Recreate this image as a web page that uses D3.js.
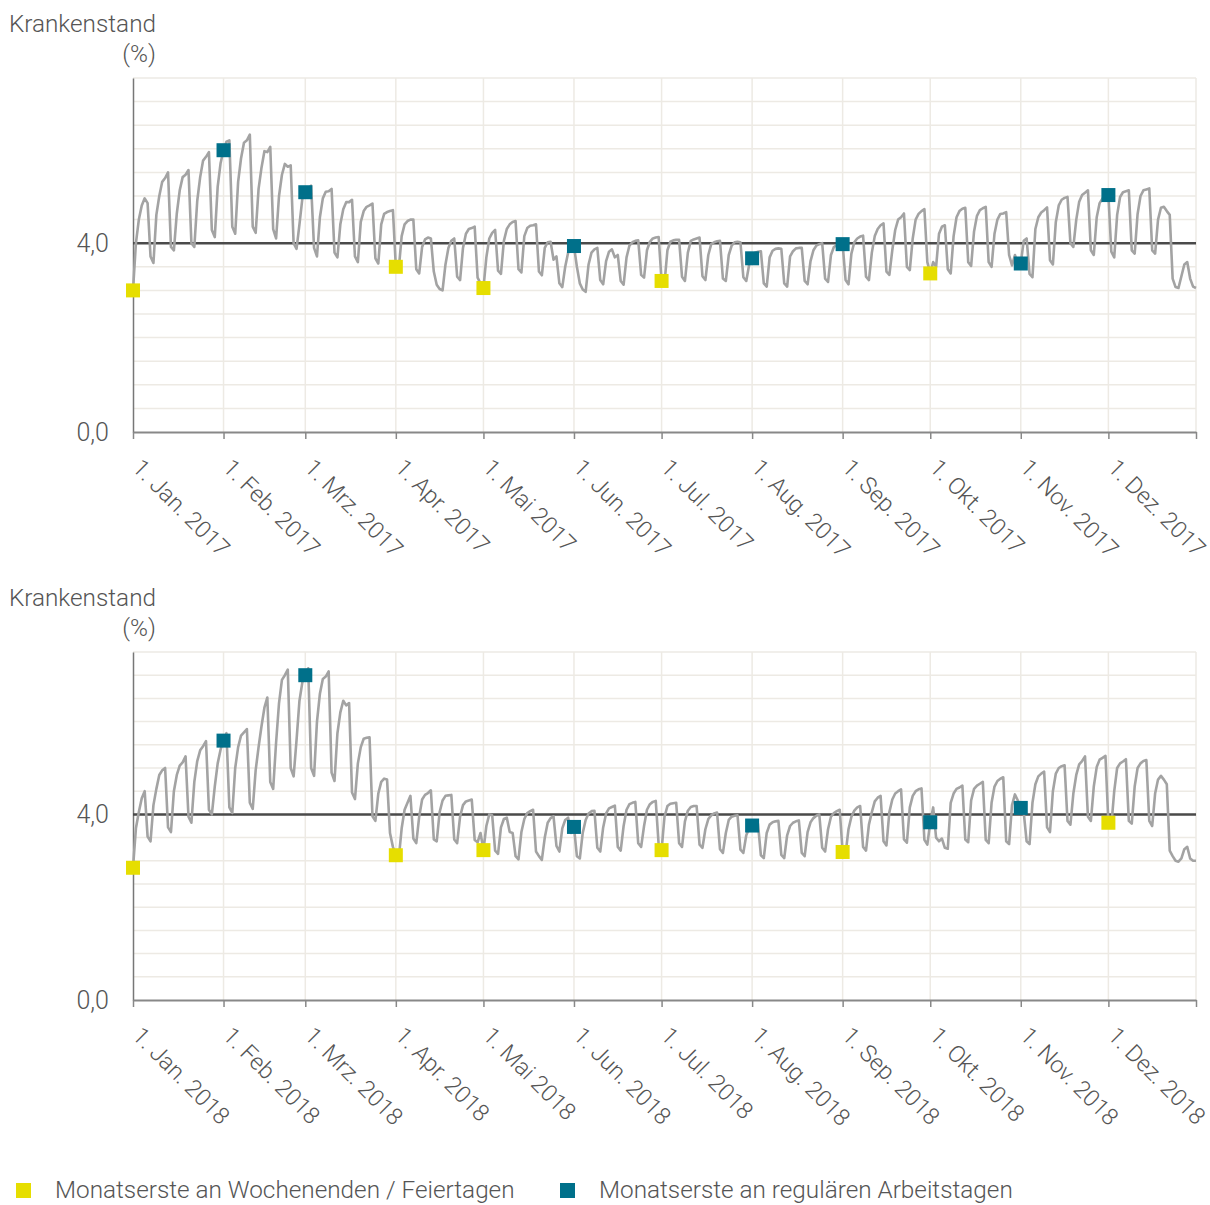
<!DOCTYPE html>
<html>
<head>
<meta charset="utf-8">
<script src="https://cdn.jsdelivr.net/npm/d3@7"></script>
<style>
  body { margin: 0; background: #fff; }
  svg text { font-family: Roboto, 'Open Sans', sans-serif; font-weight: 300; fill: #555; }
</style>
</head>
<body>
<svg id="chart" width="1210" height="1205"></svg>
<script>
// ── Data ───────────────────────────────────────────────────────
const monthLabels = ['Jan.', 'Feb.', 'Mrz.', 'Apr.', 'Mai', 'Jun.', 'Jul.', 'Aug.', 'Sep.', 'Okt.', 'Nov.', 'Dez.'];
const yTicks = [0, 4];
const refValue = 4.0;

// daily sick-leave rate (%), 1 Jan 2017 (Sun) .. 31 Dec 2017, one row per week Mon..Sun
const krankenstand2017 = [
  3.00,
  4.00, 4.50, 4.80, 4.95, 4.85, 3.72, 3.58,
  4.60, 5.00, 5.30, 5.38, 5.50, 3.92, 3.85,
  4.63, 5.12, 5.40, 5.45, 5.55, 4.00, 3.92,
  4.90, 5.40, 5.75, 5.83, 5.93, 4.28, 4.13,
  5.20, 5.70, 5.97, 6.15, 6.18, 4.35, 4.20,
  5.30, 5.80, 6.13, 6.18, 6.30, 4.35, 4.22,
  5.15, 5.60, 5.95, 5.93, 6.04, 4.30, 4.10,
  5.00, 5.45, 5.68, 5.62, 5.65, 4.00, 3.88,
  4.40, 4.95, 5.08, 5.15, 5.22, 3.90, 3.72,
  4.55, 4.95, 5.09, 5.10, 5.15, 3.80, 3.70,
  4.40, 4.72, 4.87, 4.87, 4.92, 3.72, 3.60,
  4.45, 4.68, 4.77, 4.80, 4.84, 3.68, 3.57,
  4.40, 4.62, 4.66, 4.68, 4.70, 3.50, 3.45,
  4.15, 4.40, 4.47, 4.50, 4.50, 3.45, 3.36,
  3.92, 4.08, 4.12, 4.10, 3.40, 3.12, 3.03,
  3.00, 3.55, 3.90, 4.05, 4.10, 3.29, 3.22,
  3.90, 4.20, 4.30, 4.32, 4.35, 3.27, 3.15,
  3.05, 3.70, 4.10, 4.22, 4.28, 3.42, 3.35,
  4.05, 4.30, 4.40, 4.45, 4.47, 3.45, 3.38,
  4.15, 4.32, 4.37, 4.38, 4.40, 3.40, 3.32,
  3.90, 4.02, 4.03, 3.65, 3.72, 3.15, 3.07,
  3.50, 3.80, 3.92, 3.94, 3.50, 3.15, 3.02,
  2.97, 3.55, 3.80, 3.87, 3.90, 3.22, 3.13,
  3.62, 3.82, 3.87, 3.70, 3.75, 3.20, 3.12,
  3.70, 3.95, 4.02, 4.05, 4.06, 3.33, 3.27,
  3.85, 4.03, 4.10, 4.12, 4.13, 3.20, 3.15,
  3.85, 4.03, 4.06, 4.07, 4.07, 3.29, 3.20,
  3.80, 4.05, 4.08, 4.10, 4.12, 3.30, 3.22,
  3.75, 3.98, 4.02, 4.04, 4.05, 3.25, 3.20,
  3.75, 3.95, 4.02, 4.03, 4.02, 3.28, 3.20,
  3.55, 3.68, 3.80, 3.82, 3.83, 3.15, 3.08,
  3.70, 3.84, 3.88, 3.89, 3.88, 3.15, 3.08,
  3.72, 3.83, 3.89, 3.90, 3.90, 3.20, 3.13,
  3.62, 3.85, 3.95, 3.98, 4.00, 3.25, 3.18,
  3.75, 3.92, 3.96, 3.98, 3.98, 3.22, 3.13,
  3.78, 4.02, 4.10, 4.14, 4.16, 3.29, 3.22,
  3.80, 4.15, 4.30, 4.38, 4.42, 3.40, 3.33,
  3.85, 4.28, 4.50, 4.55, 4.63, 3.50, 3.43,
  4.10, 4.50, 4.62, 4.68, 4.72, 3.60, 3.36,
  3.60, 3.50, 4.20, 4.35, 4.38, 3.45, 3.36,
  4.15, 4.55, 4.68, 4.73, 4.75, 3.60, 3.52,
  4.25, 4.58, 4.70, 4.74, 4.77, 3.60, 3.50,
  4.20, 4.50, 4.62, 4.63, 4.66, 3.75, 3.53,
  3.75, 3.55, 3.57, 4.05, 4.10, 3.35, 3.28,
  4.30, 4.55, 4.65, 4.70, 4.76, 3.64, 3.55,
  4.45, 4.80, 4.92, 4.96, 4.98, 4.00, 3.92,
  4.50, 4.88, 5.02, 5.07, 5.12, 3.85, 3.75,
  4.55, 4.85, 4.95, 5.00, 5.02, 3.82, 3.70,
  4.60, 4.98, 5.08, 5.10, 5.12, 3.85, 3.78,
  4.62, 5.00, 5.12, 5.14, 5.16, 3.85, 3.78,
  4.50, 4.75, 4.77, 4.68, 4.60, 3.25, 3.07,
  3.05, 3.30, 3.55, 3.60, 3.25, 3.08, 3.05
];

// 1 Jan 2018 (Mon) .. 31 Dec 2018, one row per week Mon..Sun
const krankenstand2018 = [
  2.85, 3.70, 4.05, 4.35, 4.50, 3.52, 3.42,
  4.20, 4.55, 4.85, 4.95, 5.00, 3.72, 3.62,
  4.50, 4.85, 5.05, 5.12, 5.25, 3.95, 3.82,
  4.70, 5.15, 5.38, 5.47, 5.58, 4.10, 4.00,
  4.60, 5.10, 5.40, 5.59, 5.75, 4.15, 4.03,
  5.00, 5.45, 5.70, 5.77, 5.84, 4.25, 4.12,
  4.95, 5.45, 5.90, 6.30, 6.52, 4.70, 4.55,
  5.55, 6.40, 6.90, 7.00, 7.12, 5.00, 4.82,
  5.60, 6.45, 6.85, 7.00, 7.15, 5.00, 4.83,
  6.00, 6.60, 6.92, 6.97, 7.08, 4.90, 4.72,
  5.75, 6.20, 6.45, 6.35, 6.40, 4.47, 4.33,
  5.10, 5.45, 5.63, 5.65, 5.66, 3.96, 3.86,
  4.45, 4.70, 4.77, 4.75, 3.60, 3.30, 3.12,
  3.05, 3.70, 4.10, 4.25, 4.40, 3.48, 3.38,
  3.95, 4.32, 4.42, 4.46, 4.52, 3.46, 3.42,
  4.05, 4.30, 4.40, 4.41, 4.42, 3.46, 3.38,
  3.95, 4.20, 4.28, 4.30, 4.32, 3.45, 3.40,
  3.60, 3.23, 3.75, 4.00, 3.98, 3.22, 3.15,
  3.72, 3.90, 3.93, 3.62, 3.60, 3.10, 3.03,
  3.62, 3.90, 4.03, 4.07, 4.10, 3.20, 3.10,
  3.02, 3.50, 3.82, 3.92, 3.96, 3.32, 3.20,
  3.70, 3.88, 3.93, 3.60, 3.73, 3.10, 3.05,
  3.60, 3.88, 4.02, 4.07, 4.08, 3.28, 3.20,
  3.72, 4.02, 4.13, 4.16, 4.19, 3.30, 3.22,
  3.75, 4.10, 4.22, 4.25, 4.27, 3.38, 3.30,
  3.75, 4.10, 4.22, 4.27, 4.29, 3.35, 3.23,
  3.95, 4.18, 4.23, 4.24, 4.25, 3.38, 3.30,
  3.85, 4.08, 4.16, 4.18, 4.18, 3.35, 3.28,
  3.68, 3.90, 3.98, 4.02, 4.04, 3.25, 3.17,
  3.60, 3.88, 3.95, 3.97, 3.98, 3.24, 3.17,
  3.55, 3.70, 3.76, 3.80, 3.80, 3.12, 3.06,
  3.60, 3.78, 3.83, 3.85, 3.86, 3.13, 3.06,
  3.55, 3.75, 3.82, 3.85, 3.87, 3.17, 3.10,
  3.62, 3.83, 3.92, 3.97, 4.00, 3.28, 3.20,
  3.68, 3.95, 4.03, 4.07, 4.10, 3.19, 3.15,
  3.68, 3.95, 4.08, 4.15, 4.18, 3.30, 3.22,
  3.78, 4.05, 4.28, 4.36, 4.40, 3.42, 3.33,
  4.05, 4.32, 4.45, 4.50, 4.54, 3.46, 3.39,
  4.15, 4.40, 4.50, 4.54, 4.56, 3.45, 3.35,
  3.83, 4.15, 3.50, 3.42, 3.48, 3.28, 3.26,
  4.25, 4.45, 4.55, 4.58, 4.62, 3.46, 3.40,
  4.30, 4.55, 4.62, 4.66, 4.70, 3.45, 3.38,
  4.25, 4.60, 4.72, 4.77, 4.80, 3.42, 3.36,
  4.20, 4.43, 4.30, 4.14, 4.05, 3.42, 3.36,
  4.25, 4.65, 4.82, 4.88, 4.92, 3.72, 3.62,
  4.50, 4.88, 5.00, 5.04, 5.06, 3.86, 3.78,
  4.45, 4.85, 5.08, 5.15, 5.25, 3.95, 3.86,
  4.60, 5.02, 5.18, 5.22, 5.26, 3.82, 3.75,
  4.50, 5.00, 5.10, 5.14, 5.19, 3.86, 3.80,
  4.60, 5.00, 5.10, 5.15, 5.17, 3.86, 3.75,
  4.45, 4.75, 4.83, 4.75, 4.65, 3.22, 3.10,
  3.00, 2.98, 3.05, 3.25, 3.30, 3.05, 3.00,
  3.00
];

// first of month: 'w' = weekend / holiday, 'r' = regular working day
const monatserste2017 = ['w', 'r', 'r', 'w', 'w', 'r', 'w', 'r', 'r', 'w', 'r', 'r'];
const monatserste2018 = ['w', 'r', 'r', 'w', 'w', 'r', 'w', 'r', 'w', 'r', 'r', 'w'];

const legendLabels = ['Monatserste an Wochenenden / Feiertagen', 'Monatserste an regulären Arbeitstagen'];

// ── Styles ─────────────────────────────────────────────────────
const colors = { w: '#e6de00', r: '#00708a' };
const gridColor = '#edeae4';
const fmt = d => d.toFixed(1).replace('.', ',');

const svg = d3.select('#chart');

function drawPanel(year, values, firstTypes, top, bottom) {
  const left = 133, right = 1196;
  const start = new Date(Date.UTC(year, 0, 1));
  const end = new Date(Date.UTC(year, 11, 31));

  const x = d3.scaleUtc().domain([start, end]).range([left, right]);
  const y = d3.scaleLinear().domain([0, 7.5]).range([bottom, top]);

  const data = values.map((v, i) => ({ date: d3.utcDay.offset(start, i), value: v }));
  const monthStarts = d3.utcMonth.range(start, d3.utcDay.offset(end, 1));

  const g = svg.append('g');

  // Grid
  g.append('g').selectAll('line')
    .data(d3.range(0.5, 7.51, 0.5))
    .enter().append('line')
    .attr('x1', left).attr('x2', right)
    .attr('y1', d => y(d)).attr('y2', d => y(d))
    .attr('stroke', gridColor).attr('stroke-width', 1.5);
  g.append('g').selectAll('line')
    .data([...monthStarts.slice(1), end])
    .enter().append('line')
    .attr('x1', d => x(d)).attr('x2', d => x(d))
    .attr('y1', top).attr('y2', bottom)
    .attr('stroke', gridColor).attr('stroke-width', 1.5);

  // Axes
  const yAxisG = g.append('g').attr('transform', `translate(${left},0)`)
    .call(d3.axisLeft(y).tickValues(yTicks).tickSize(0).tickPadding(24).tickFormat(fmt));
  yAxisG.select('path').attr('stroke', '#777').attr('stroke-width', 1.5);
  yAxisG.selectAll('text')
    .attr('font-size', '25px')
    .attr('font-family', null)
    .attr('fill', '#555');

  const xAxisG = g.append('g').attr('transform', `translate(0,${bottom})`)
    .call(d3.axisBottom(x).tickValues([...monthStarts, end]).tickSize(7).tickSizeOuter(0).tickFormat(''));
  xAxisG.select('path').attr('stroke', '#888').attr('stroke-width', 2);
  xAxisG.selectAll('line').attr('stroke', '#888').attr('stroke-width', 1.5);

  g.selectAll('.month-label')
    .data(monthStarts)
    .enter().append('text')
    .attr('class', 'month-label')
    .attr('transform', d => `translate(${x(d) - 2},${bottom + 37}) rotate(45)`)
    .attr('font-size', '23.4px')
    .text(d => `1. ${monthLabels[d.getUTCMonth()]} ${year}`);

  // Axis title
  g.append('text').attr('x', 156).attr('y', top - 46).attr('text-anchor', 'end')
    .attr('font-size', '24.3px').text('Krankenstand');
  g.append('text').attr('x', 156).attr('y', top - 16).attr('text-anchor', 'end')
    .attr('font-size', '24.3px').text('(%)');

  // Reference line at 4,0
  g.append('line')
    .attr('x1', left).attr('x2', right)
    .attr('y1', y(refValue)).attr('y2', y(refValue))
    .attr('stroke', '#4a4a4a').attr('stroke-width', 2.5);

  // Daily line
  g.append('path')
    .datum(data)
    .attr('fill', 'none')
    .attr('stroke', '#a3a3a3')
    .attr('stroke-width', 2.6)
    .attr('stroke-linejoin', 'round')
    .attr('d', d3.line().x(d => x(d.date)).y(d => y(d.value)));

  // First-of-month markers
  const firsts = monthStarts.map((m, i) => ({
    date: m,
    value: values[d3.utcDay.count(start, m)],
    type: firstTypes[i],
  }));
  g.selectAll('.first-marker')
    .data(firsts)
    .enter().append('rect')
    .attr('class', 'first-marker')
    .attr('x', d => x(d.date) - 7)
    .attr('y', d => y(d.value) - 7)
    .attr('width', 14).attr('height', 14)
    .attr('fill', d => colors[d.type]);
}

drawPanel(2017, krankenstand2017, monatserste2017, 78, 432);
drawPanel(2018, krankenstand2018, monatserste2018, 652, 1000);

// ── Legend ─────────────────────────────────────────────────────
const legend = svg.append('g').attr('transform', 'translate(16,1183)');
[['w', 0], ['r', 544]].forEach(([k, dx], i) => {
  legend.append('rect').attr('x', dx).attr('y', 0).attr('width', 15).attr('height', 15).attr('fill', colors[k]);
  legend.append('text').attr('x', dx + 39).attr('y', 15)
    .attr('font-size', '24.3px').text(legendLabels[i]);
});
</script>
</body>
</html>
